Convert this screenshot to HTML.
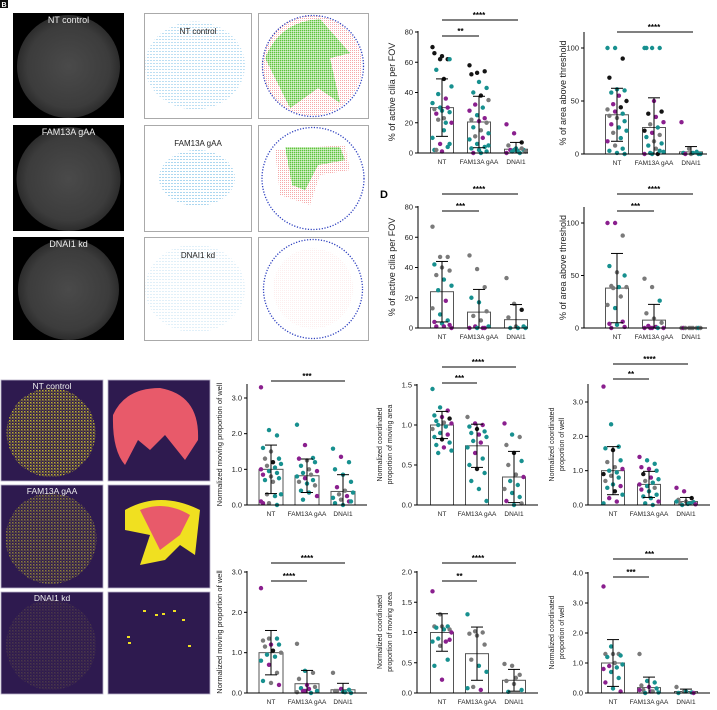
<!DOCTYPE html>
<html><head><meta charset="utf-8">
<style>
html,body{margin:0;padding:0;background:#fff;}
svg{display:block;font-family:"Liberation Sans",Arial,sans-serif;}
</style></head>
<body>
<svg id="fig" width="717" height="710" viewBox="0 0 717 710" xmlns="http://www.w3.org/2000/svg">
<defs>
  <radialGradient id="grayG" cx="50%" cy="50%" r="50%">
    <stop offset="0%" stop-color="#4a4a4a"/><stop offset="80%" stop-color="#3c3c3c"/><stop offset="100%" stop-color="#2c2c2c"/>
  </radialGradient>
  <pattern id="blueP" width="3" height="3" patternUnits="userSpaceOnUse"><rect width="2" height="1" fill="#5aaee0"/></pattern>
  <pattern id="greenP" width="2" height="2" patternUnits="userSpaceOnUse"><rect width="1.5" height="1.5" fill="#5ec43a"/></pattern>
  <pattern id="redP" width="2" height="2" patternUnits="userSpaceOnUse"><rect width="1" height="1" fill="#f07070"/></pattern>
  <pattern id="yelP" width="3" height="3" patternUnits="userSpaceOnUse"><rect width="1.5" height="1.5" fill="#e8e020"/><rect x="1.5" y="1.5" width="1" height="1" fill="#c8c020"/></pattern>
</defs>
<g id="imgs"></g>
<g id="charts"></g>
<rect x="0" y="0" width="8" height="8" fill="#111"/>
<text x="1.5" y="7" font-size="7" font-weight="bold" fill="#fff">B</text>
<text x="380" y="198" font-size="11" font-weight="bold" fill="#000">D</text>
</svg>
<script>
// ---------- chart data ----------
const groups = ["NT","FAM13A gAA","DNAI1"];
// C1
const c1Means=[30,20.5,2.5], c1Sd=[19,17,4.5];
const c1NT=[70,62,62,66,64,62,55,49,44,39,36,33,30,30,29,28,27,26,23,20,22,20,10,6,4,2,1,6,2,15], c1NTc="kkkkkttkttpttpgttpgpgttpttptgt";
const c1FA=[58,53,54,52,47,43,40,38,35,32,30,28,25,23,22,21,20,17,15,13,11,10,9,6,4,3,2,1,0,0,5], c1FAc="kkkktttkgptptpgpgtgtgpttttttptt";
const c1DN=[19,13,7,5,3,2,2,1,1,1,0,0,2,3], c1DNc="ppkgttptgttptg";
const c1Ticks=[0,20,40,60,80], c1TickLabels=["0","20","40","60","80"];
// C2
const c2Means=[37,25,2], c2Sd=[25,28,5];
const c2NT=[100,100,90,72,61,60,58,55,50,47,44,42,40,38,36,34,31,28,25,22,20,15,12,8,5,3,1,0], c2NTc="ttkktttpkpkgptggtpttgtpgtttt";
const c2FA=[100,100,100,100,50,40,38,35,30,28,25,22,20,18,16,12,10,8,5,2,1,0,0,0,3], c2FAc="ttttpkkppgtkpgtgttgttkptt";
const c2DN=[30,5,2,1,0,0,0,1,0], c2DNc="pgttgtptt";
const c2Ticks=[0,50,100], c2TickLabels=["0","50","100"];
// D1
const d1Means=[24,10.5,5.5], d1Sd=[20,15,10];
const d1NT=[67,47,47,42,40,38,35,32,28,25,18,13,9,5,4,3,2,1,1,0], d1NTc="gggtgggtttpgttptpppp";
const d1FA=[48,39,27,20,17,11,8,5,1,1,0,0,0,0], d1FAc="gggttgggtppptp";
const d1DN=[33,16,12,7,1,1,0,0,0], d1DNc="ggkggtttt";
// D2
const d2Means=[38,7.5,0], d2Sd=[33,15,0];
const d2NT=[100,100,88,59,53,50,40,39,39,38,30,22,19,6,4,3,1,0], d2NTc="ppgtgtgtggggtpptpp";
const d2FA=[47,39,26,14,9,5,2,1,0,0,0,0,0], d2FAc="ggtgggpppptpp";
const d2DN=[0,0,0,0,0,0,0,0,0], d2DNc="gggpgtggg";
// E1
const e1Means=[1.0,0.82,0.38], e1Sd=[0.68,0.47,0.47];
const e1NT=[3.3,2.1,1.95,1.6,1.5,1.3,1.3,1.2,1.15,1.1,1.05,1.0,0.95,0.9,0.85,0.8,0.75,0.7,0.65,0.3,0.3,0.25,0.1,0.05,0.0,0.05], e1NTc="ptttgtgktgtpttpgttgtgtpgtp";
const e1FA=[2.25,1.68,1.32,1.3,1.25,1.2,1.1,1.0,0.95,0.9,0.85,0.8,0.75,0.7,0.65,0.6,0.55,0.4,0.35,0.25,0.15], e1FAc="tptpgttgptgtptgtgttpt";
const e1DN=[1.58,1.35,1.2,1.0,0.85,0.65,0.5,0.4,0.35,0.3,0.25,0.2,0.15,0.1,0.05,0.0,0.1], e1DNc="tpttttpgtgptgpttt";
// E2
const e2Means=[1.0,0.74,0.35], e2Sd=[0.17,0.27,0.32];
const e2NT=[1.45,1.22,1.18,1.12,1.1,1.08,1.05,1.03,1.02,1.0,0.98,0.95,0.9,0.88,0.85,0.82,0.78,0.75,0.72,0.68,0.65], e2NTc="ttptpktgpttgtptkttptt";
const e2FA=[1.1,1.02,1.0,0.98,0.95,0.92,0.9,0.88,0.85,0.8,0.78,0.72,0.65,0.58,0.5,0.45,0.4,0.3,0.2,0.05], e2FAc="gpptkttpttptpttkttt t".replace(" ","");
const e2DN=[1.02,0.88,0.85,0.75,0.65,0.55,0.5,0.38,0.35,0.3,0.25,0.2,0.15,0.1,0.05,0.0,0.02], e2DNc="ptggktggpttgttptg";
// E3
const e3Means=[1.0,0.6,0.1], e3Sd=[0.7,0.38,0.12];
const e3NT=[3.45,2.35,1.7,1.65,1.6,1.3,1.25,1.1,1.05,1.0,0.95,0.9,0.85,0.8,0.7,0.6,0.55,0.5,0.4,0.3,0.2,0.1,0.05], e3NTc="ptttktggpttkgtgtptktppt";
const e3FA=[1.4,1.3,1.2,1.1,1.05,1.0,0.9,0.8,0.75,0.7,0.65,0.6,0.55,0.5,0.45,0.4,0.3,0.25,0.2,0.1,0.05,0.0], e3FAc="pttpptkptgtptgpttttptt";
const e3DN=[0.5,0.4,0.2,0.15,0.1,0.08,0.05,0.03,0.02,0.0,0.05,0.1], e3DNc="ppkggtgtpttt";
// F1
const f1Means=[1.0,0.23,0.08], f1Sd=[0.55,0.33,0.16];
const f1NT=[2.6,1.35,1.35,1.3,1.2,1.2,1.15,1.05,1.0,0.95,0.9,0.8,0.7,0.5,0.3,0.25,0.2], f1NTc="pgtgptgkgtttpgtgp";
const f1FA=[1.22,0.55,0.5,0.35,0.2,0.15,0.12,0.1,0.05,0.05,0.0,0.02,0.05], f1FAc="gtggpgtptptgp";
const f1DN=[0.5,0.1,0.08,0.05,0.03,0.0,0.05,0.02], f1DNc="gptgttgt";
// F2
const f2Means=[1.0,0.65,0.21], f2Sd=[0.31,0.44,0.18];
const f2NT=[1.68,1.3,1.1,1.1,1.1,1.05,1.08,1.05,1.0,0.9,0.85,0.85,0.78,0.55,0.45,0.22,0.88], f2NTc="pgtgggttptptgttpp";
const f2FA=[1.3,1.02,1.0,0.98,0.95,0.8,0.55,0.45,0.35,0.1,0.05,0.08], f2FAc="tggggggttgpt";
const f2DN=[0.48,0.45,0.3,0.2,0.15,0.05,0.02,0.25], f2DNc="gggggttg";
// F3
const f3Means=[1.0,0.18,0.05], f3Sd=[0.78,0.35,0.08];
const f3NT=[3.55,1.55,1.3,1.3,1.3,1.25,1.2,1.0,0.95,0.9,0.85,0.8,0.7,0.5,0.35,0.15,0.05], f3NTc="ptgggttgtptpttptp";
const f3FA=[1.3,0.4,0.35,0.25,0.2,0.15,0.1,0.05,0.02,0.0,0.05,0.1], f3FAc="gttgptgpttgp";
const f3DN=[0.2,0.05,0.02,0.0,0.05,0.0], f3DNc="ggtttp";

// ---------- drawing ----------
const NS="http://www.w3.org/2000/svg";
const COL={t:"#17908f",p:"#8a1f8e",k:"#141414",g:"#7a7a7a"};
function mk(parent,tag,attrs){const e=document.createElementNS(NS,tag);for(const k in attrs)e.setAttribute(k,attrs[k]);parent.appendChild(e);return e;}

function chart(o){
  const g=mk(document.getElementById("charts"),"g",{});
  
  
  const y=v=>o.y0-(v-0)*(o.y0-o.yRefPx)/o.yRef;
  const xs=o.barX;
  for(let i=0;i<3;i++){
    const b=mk(g,"rect",{x:xs[i]-o.bw/2,y:y(o.means[i]),width:o.bw,height:Math.max(0,o.y0-y(o.means[i])),fill:"#fff",stroke:"#555","stroke-width":1});
    
    
  }
  for(let i=0;i<3;i++){
    const vals=o.pts[i], cs=o.cols[i];
    for(let j=0;j<vals.length;j++){
      const off=(((j*37)%11)-5)/5*(o.bw/2-2);
      const c=mk(g,"circle",{cx:xs[i]+off,cy:y(vals[j]),r:2.2,fill:COL[cs[j]]||COL.t});
      
      
    }
  }
  for(let i=0;i<3;i++){
    const hi=o.means[i]+o.sd[i], lo=Math.max(0,o.means[i]-o.sd[i]);
    const eg=mk(g,"g",{stroke:"#000","stroke-width":1});
    
    
    mk(eg,"line",{x1:xs[i],x2:xs[i],y1:y(hi),y2:y(lo)});
    mk(eg,"line",{x1:xs[i]-6,x2:xs[i]+6,y1:y(hi),y2:y(hi)});
    mk(eg,"line",{x1:xs[i]-6,x2:xs[i]+6,y1:y(lo),y2:y(lo)});
  }
  const ax=mk(g,"path",{d:`M${o.ax},${o.top} V${o.y0} H${o.xEnd}`,fill:"none",stroke:"#000","stroke-width":1});
  
  
  for(let i=0;i<o.ticks.length;i++){
    const ty=y(o.ticks[i]);
    mk(g,"line",{x1:o.ax-3,x2:o.ax,y1:ty,y2:ty,stroke:"#000","stroke-width":1});
    const t=mk(g,"text",{x:o.ax-5,y:ty+2.5,"font-size":7.5,"text-anchor":"end",fill:"#222"});
    t.textContent=o.tickLabels[i];
    
    
  }
  for(let i=0;i<3;i++){
    const t=mk(g,"text",{x:xs[i],y:o.y0+11,"font-size":6.5,"text-anchor":"middle",fill:"#222"});
    t.textContent=groups[i];
    
    
  }
  const cy=(o.top+o.y0)/2;
  o.title.forEach((line,k)=>{
    const lx=o.titleX+k*10;
    const t=mk(g,"text",{x:lx,y:cy,"font-size":o.titleSize||8,"text-anchor":"middle",fill:"#222",transform:`rotate(-90 ${lx} ${cy})`});
    t.textContent=line;
    
    
  });
  o.sig.forEach(s=>{
    const l=mk(g,"line",{x1:xs[s[0]],x2:xs[s[1]]+(s[1]==2?2:0),y1:s[2],y2:s[2],stroke:"#000","stroke-width":1});
    
    
    const t=mk(g,"text",{x:(xs[s[0]]+xs[s[1]])/2,y:s[2]-2,"font-size":8,"font-weight":"bold","text-anchor":"middle",fill:"#000"});
    t.textContent=s[3];
    
    
  });
}

const topX=[442,479,516], topX2=[617,654,691];
const botX1=[271,307,343], botX2=[442,477,514], botX3=[613,649,686];
chart({name:"chart-c-active-cilia",ax:418,y0:153,yRef:80,yRefPx:32,top:31,xEnd:528,barX:topX,bw:23,means:c1Means,sd:c1Sd,pts:[c1NT,c1FA,c1DN],cols:[c1NTc,c1FAc,c1DNc],ticks:c1Ticks,tickLabels:c1TickLabels,title:["% of active cilia per FOV"],titleX:395,titleSize:9,sig:[[0,2,20,"****"],[0,1,36,"**"]]});
chart({name:"chart-c-area-threshold",ax:584,y0:154,yRef:100,yRefPx:48,top:32,xEnd:707,barX:topX2,bw:23,means:c2Means,sd:c2Sd,pts:[c2NT,c2FA,c2DN],cols:[c2NTc,c2FAc,c2DNc],ticks:c2Ticks,tickLabels:c2TickLabels,title:["% of area above threshold"],titleX:566,titleSize:9,sig:[[0,2,32,"****"]]});
chart({name:"chart-d-active-cilia",ax:418,y0:328,yRef:80,yRefPx:207,top:206,xEnd:528,barX:topX,bw:23,means:d1Means,sd:d1Sd,pts:[d1NT,d1FA,d1DN],cols:[d1NTc,d1FAc,d1DNc],ticks:c1Ticks,tickLabels:c1TickLabels,title:["% of active cilia per FOV"],titleX:395,titleSize:9,sig:[[0,2,194,"****"],[0,1,211,"***"]]});
chart({name:"chart-d-area-threshold",ax:584,y0:328,yRef:100,yRefPx:223,top:207,xEnd:707,barX:topX2,bw:23,means:d2Means,sd:d2Sd,pts:[d2NT,d2FA,d2DN],cols:[d2NTc,d2FAc,d2DNc],ticks:c2Ticks,tickLabels:c2TickLabels,title:["% of area above threshold"],titleX:566,titleSize:9,sig:[[0,2,194,"****"],[0,1,211,"***"]]});

chart({name:"chart-e-moving",ax:247,y0:505,yRef:3,yRefPx:398,top:384,xEnd:367,barX:botX1,bw:24,means:e1Means,sd:e1Sd,pts:[e1NT,e1FA,e1DN],cols:[e1NTc,e1FAc,e1DNc],ticks:[0,1,2,3],tickLabels:["0.0","1.0","2.0","3.0"],title:["Normalized moving proportion of well"],titleX:222,titleSize:7.5,sig:[[0,2,381,"***"]]});
chart({name:"chart-e-coord-moving",ax:417,y0:505,yRef:1.5,yRefPx:385,top:384,xEnd:538,barX:botX2,bw:23,means:e2Means,sd:e2Sd,pts:[e2NT,e2FA,e2DN],cols:[e2NTc,e2FAc,e2DNc],ticks:[0,0.5,1,1.5],tickLabels:["0.0","0.5","1.0","1.5"],title:["Normalized coordinated","proportion of moving area"],titleX:382,titleSize:7,sig:[[0,2,367,"****"],[0,1,383,"***"]]});
chart({name:"chart-e-coord-well",ax:588,y0:505,yRef:3,yRefPx:402,top:384,xEnd:710,barX:botX3,bw:23,means:e3Means,sd:e3Sd,pts:[e3NT,e3FA,e3DN],cols:[e3NTc,e3FAc,e3DNc],ticks:[0,1,2,3],tickLabels:["0.0","1.0","2.0","3.0"],title:["Normalized coordinated","proportion of well"],titleX:554,titleSize:7,sig:[[0,2,364,"****"],[0,1,379,"**"]]});
chart({name:"chart-f-moving",ax:247,y0:693,yRef:3,yRefPx:572,top:571,xEnd:367,barX:botX1,bw:24,means:f1Means,sd:f1Sd,pts:[f1NT,f1FA,f1DN],cols:[f1NTc,f1FAc,f1DNc],ticks:[0,1,2,3],tickLabels:["0.0","1.0","2.0","3.0"],title:["Normalized moving proportion of well"],titleX:222,titleSize:7.5,sig:[[0,2,563,"****"],[0,1,581,"****"]]});
chart({name:"chart-f-coord-moving",ax:417,y0:693,yRef:2,yRefPx:572,top:571,xEnd:538,barX:botX2,bw:23,means:f2Means,sd:f2Sd,pts:[f2NT,f2FA,f2DN],cols:[f2NTc,f2FAc,f2DNc],ticks:[0,0.5,1,1.5,2],tickLabels:["0.0","0.5","1.0","1.5","2.0"],title:["Normalized coordinated","proportion of moving area"],titleX:382,titleSize:7,sig:[[0,2,563,"****"],[0,1,581,"**"]]});
chart({name:"chart-f-coord-well",ax:588,y0:693,yRef:4,yRefPx:573,top:572,xEnd:710,barX:botX3,bw:23,means:f3Means,sd:f3Sd,pts:[f3NT,f3FA,f3DN],cols:[f3NTc,f3FAc,f3DNc],ticks:[0,1,2,3,4],tickLabels:["0.0","1.0","2.0","3.0","4.0"],title:["Normalized coordinated","proportion of well"],titleX:554,titleSize:7,sig:[[0,2,559,"***"],[0,1,577,"***"]]});

// ---------- image panels ----------
const IG=document.getElementById("imgs");
const labels=["NT control","FAM13A gAA","DNAI1 kd"];
const rowsTop=[[13,118],[125,231],[237,340]];
rowsTop.forEach((r,i)=>{
  const h=r[1]-r[0];
  const g=mk(IG,"g",{});
  
  
  mk(g,"rect",{x:13,y:r[0],width:111,height:h,fill:"#000"});
  mk(g,"circle",{cx:68.5,cy:r[0]+h/2+1,r:h/2-1,fill:"url(#grayG)"});
  const t=mk(g,"text",{x:68.5,y:r[0]+10,"font-size":9,"text-anchor":"middle",fill:"#eee"});t.textContent=labels[i];
  const v=mk(IG,"g",{});
  
  
  mk(v,"rect",{x:144.5,y:r[0]+0.5,width:107,height:h,fill:"#fff",stroke:"#aaa"});
  const op=[0.4,0.5,0.18][i];
  if(i==1) mk(v,"ellipse",{cx:197,cy:r[0]+h*0.5,rx:38,ry:28,fill:"url(#blueP)",opacity:op});
  else mk(v,"ellipse",{cx:195,cy:r[0]+h*0.5,rx:50,ry:44,fill:"url(#blueP)",opacity:op});
  const t2=mk(v,"text",{x:198,y:r[0]+21,"font-size":8,"text-anchor":"middle",fill:"#222"});t2.textContent=labels[i];
  const c=mk(IG,"g",{});
  
  
  mk(c,"rect",{x:258.5,y:r[0]+0.5,width:110,height:h,fill:"#fff",stroke:"#aaa"});
  if(i==0){mk(c,"circle",{cx:312,cy:r[0]+h/2,r:50,fill:"url(#redP)",opacity:0.6});mk(c,"path",{d:`M265,${r[0]+45} Q280,${r[0]+8} 320,${r[0]+6} L350,${r[0]+40} L330,${r[0]+45} L340,${r[0]+90} L318,${r[0]+75} L290,${r[0]+95} Z`,fill:"url(#greenP)"});}
  if(i==1){mk(c,"path",{d:`M275,${r[0]+25} L345,${r[0]+20} L350,${r[0]+45} L320,${r[0]+50} L310,${r[0]+80} L280,${r[0]+70} Z`,fill:"url(#redP)",opacity:0.6});mk(c,"path",{d:`M285,${r[0]+22} L340,${r[0]+22} L345,${r[0]+35} L318,${r[0]+40} L305,${r[0]+65} L292,${r[0]+60} Z`,fill:"url(#greenP)"});}
  if(i==2){mk(c,"circle",{cx:313,cy:r[0]+h/2,r:40,fill:"url(#redP)",opacity:0.12});}
  mk(c,"circle",{cx:313,cy:r[0]+h/2+0.5,r:h/2-2,fill:"none",stroke:"#2c3fbf","stroke-width":1.3,"stroke-dasharray":"1.2 1.6"});
});
const rowsBot=[[380,481],[485,588],[592,694]];
const yOp=[0.75,0.5,0.15];
rowsBot.forEach((r,i)=>{
  const h=r[1]-r[0];
  const g=mk(IG,"g",{});
  
  
  mk(g,"rect",{x:1,y:r[0],width:102,height:h,fill:"#2e1a4f",stroke:"#b8b0c8","stroke-width":0.8});
  mk(g,"circle",{cx:51,cy:r[0]+h/2+2,r:h/2-6,fill:"url(#yelP)",opacity:yOp[i]});
  const t=mk(g,"text",{x:52,y:r[0]+9,"font-size":8.5,"text-anchor":"middle",fill:"#eee"});t.textContent=labels[i];
  const s=mk(IG,"g",{});
  
  
  mk(s,"rect",{x:108,y:r[0],width:102,height:h,fill:"#2e1a4f",stroke:"#b8b0c8","stroke-width":0.8});
  if(i==0){mk(s,"path",{d:`M113,${r[0]+35} Q125,${r[0]+8} 160,${r[0]+8} Q200,${r[0]+15} 198,${r[0]+60} L185,${r[0]+80} L165,${r[0]+55} L150,${r[0]+70} L138,${r[0]+60} L125,${r[0]+85} Q112,${r[0]+70} 113,${r[0]+35} Z`,fill:"#e85a6a"});}
  if(i==1){mk(s,"path",{d:`M125,${r[0]+25} Q160,${r[0]+5} 200,${r[0]+25} L195,${r[0]+70} L180,${r[0]+60} L165,${r[0]+75} L140,${r[0]+80} L150,${r[0]+50} L125,${r[0]+45} Z`,fill:"#f0e020"});mk(s,"path",{d:`M140,${r[0]+25} Q165,${r[0]+15} 190,${r[0]+30} L180,${r[0]+50} L160,${r[0]+65} L150,${r[0]+45} Z`,fill:"#e85a6a"});}
  if(i==2){[[143,18],[155,22],[162,21],[173,18],[182,27],[127,44],[128,50],[188,53]].forEach(p=>mk(s,"rect",{x:p[0],y:r[0]+p[1],width:3,height:2,fill:"#f0e020"}));}
});
</script>
</body></html>
